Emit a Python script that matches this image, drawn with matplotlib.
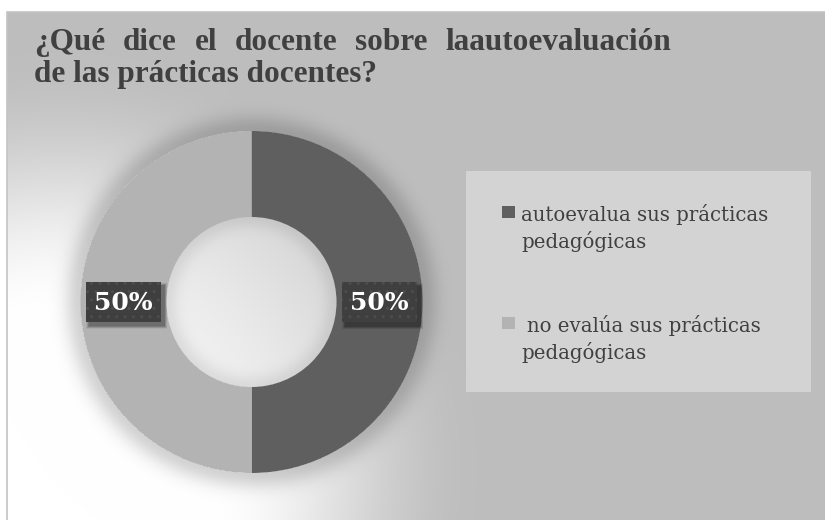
import numpy as np
import matplotlib
matplotlib.use("Agg")
import matplotlib.pyplot as plt
from matplotlib.patches import Rectangle

# ---- data ----
categories = ["autoevalua sus prácticas\npedagógicas",
              " no evalúa sus prácticas\npedagógicas"]
values = [50, 50]
colors = ["#5f5f5f", "#b3b3b3"]
title_lines = ["¿Qué dice el docente sobre laautoevaluación",
               "de las prácticas docentes?"]

W, H = 825, 520
fig = plt.figure(figsize=(W / 100, H / 100), dpi=100)
ax = fig.add_axes([0, 0, 1, 1])
ax.set_axis_off()

# ---- donut geometry (pixel units, y up) ----
cx, cy = 251.5, 218.0
R_out, ring_w = 171.0, 86.0
R_in = R_out - ring_w

# ---- background: grey panel with a soft light spot at lower left ----
yy, xx = np.mgrid[0:H, 0:W].astype(float)
yy_up = H - yy - 0.5
xx = xx + 0.5
gray = 0.745
d = np.hypot(xx - 60, yy_up - (H - 470))
f = np.clip((420 - d) / (420 - 150), 0, 1)
f = f * f * (3 - 2 * f)
bg = gray + (1 - gray) * f
# soft shadow around the ring and inside the hole
r = np.hypot(xx - cx, yy_up - cy)
out = np.clip(r - R_out, 0, None)
bg = bg * np.where(r > R_out, 1 - 0.17 * np.exp(-(out / 16) ** 2), 1)
inn = np.clip(R_in - r, 0, None)
bg = bg * np.where(r < R_in, 1 - 0.08 * np.exp(-(inn / 12) ** 2), 1)
hole_mix = np.where(r < R_in, 1.0, 0.0)
bg = bg * (1 - 0.5 * hole_mix) + 0.5 * hole_mix * 0.89 * np.where(r < R_in, 1 - 0.08 * np.exp(-(inn / 12) ** 2), 1)
# white margin outside the chart frame
bg[:12, :] = 1.0
bg[:, :7] = 1.0
ax.imshow(np.dstack([bg, bg, bg]), extent=(0, W, 0, H), origin="upper",
          interpolation="bilinear", zorder=0)
ax.add_patch(Rectangle((7, -1), W, H - 12 + 1, facecolor="none",
                       edgecolor="#c4c4c4", lw=1.2, zorder=1))

# ---- donut ----
wedges, _ = ax.pie(values, colors=colors, startangle=90, counterclock=False,
                   radius=R_out, center=(cx, cy),
                   wedgeprops=dict(width=ring_w, linewidth=0))
for w in wedges:
    w.set_zorder(3)

# ---- data labels ----
total = float(sum(values))
r_mid = R_out - ring_w / 2
bw, bh = 75, 40
for w, v in zip(wedges, values):
    ang = np.deg2rad((w.theta1 + w.theta2) / 2)
    lx, ly = cx + r_mid * np.cos(ang), cy + r_mid * np.sin(ang)
    for k, a in zip(range(6, 0, -1), [0.05, 0.06, 0.07, 0.08, 0.09, 0.1]):
        ax.add_patch(Rectangle((lx - bw / 2 + 3 - k / 2, ly - bh / 2 - 4 - k / 2),
                               bw + k, bh + k, facecolor="black", alpha=a,
                               lw=0, zorder=4))
    ax.add_patch(Rectangle((lx - bw / 2, ly - bh / 2), bw, bh,
                           facecolor="#3f3f3f", edgecolor="#4d4d4d",
                           hatch="..", lw=0, zorder=5))
    ax.text(lx, ly - 1, f"{v / total * 100:.0f}%", ha="center", va="center",
            color="white", fontsize=18, fontweight="bold",
            family="DejaVu Serif", zorder=6)

# ---- legend ----
lg_x0, lg_y0, lg_x1, lg_y1 = 466, H - 392, 811, H - 171
ax.add_patch(Rectangle((lg_x0, lg_y0), lg_x1 - lg_x0, lg_y1 - lg_y0,
                       facecolor="#d3d3d3", lw=0, zorder=2))
entry_base = [H - 221, H - 332]
for lab, col, b in zip(categories, colors, entry_base):
    ax.add_patch(Rectangle((502, b + 3), 13, 12, facecolor=col, lw=0, zorder=3))
    for i, line in enumerate(lab.split("\n")):
        x = 521
        if line.startswith(" "):
            x = 521 + 6
            line = line.lstrip()
        ax.text(x, b - 27 * i, line, ha="left", va="baseline",
                color="#404040", fontsize=14.2, family="DejaVu Serif", zorder=3)

ax.set_xlim(0, W)
ax.set_ylim(0, H)
ax.set_aspect("equal")

# ---- title: first line justified, second line left aligned ----
tkw = dict(color="#404040", fontsize=22.5, fontweight="bold",
           family="Liberation Serif", va="baseline", ha="left", zorder=3)
t_x0, t_x1 = 34, 671
fig.canvas.draw()
rend = fig.canvas.get_renderer()
words = title_lines[0].split(" ")
objs = [ax.text(0, H - 50, wd, **tkw) for wd in words]
widths = [o.get_window_extent(rend).width for o in objs]
gap = (t_x1 - t_x0 - sum(widths)) / (len(words) - 1)
x = t_x0
for o, wdt in zip(objs, widths):
    o.set_x(x)
    x += wdt + gap
ax.text(t_x0, H - 82, title_lines[1], **tkw)

fig.savefig("out.png", dpi=100)
